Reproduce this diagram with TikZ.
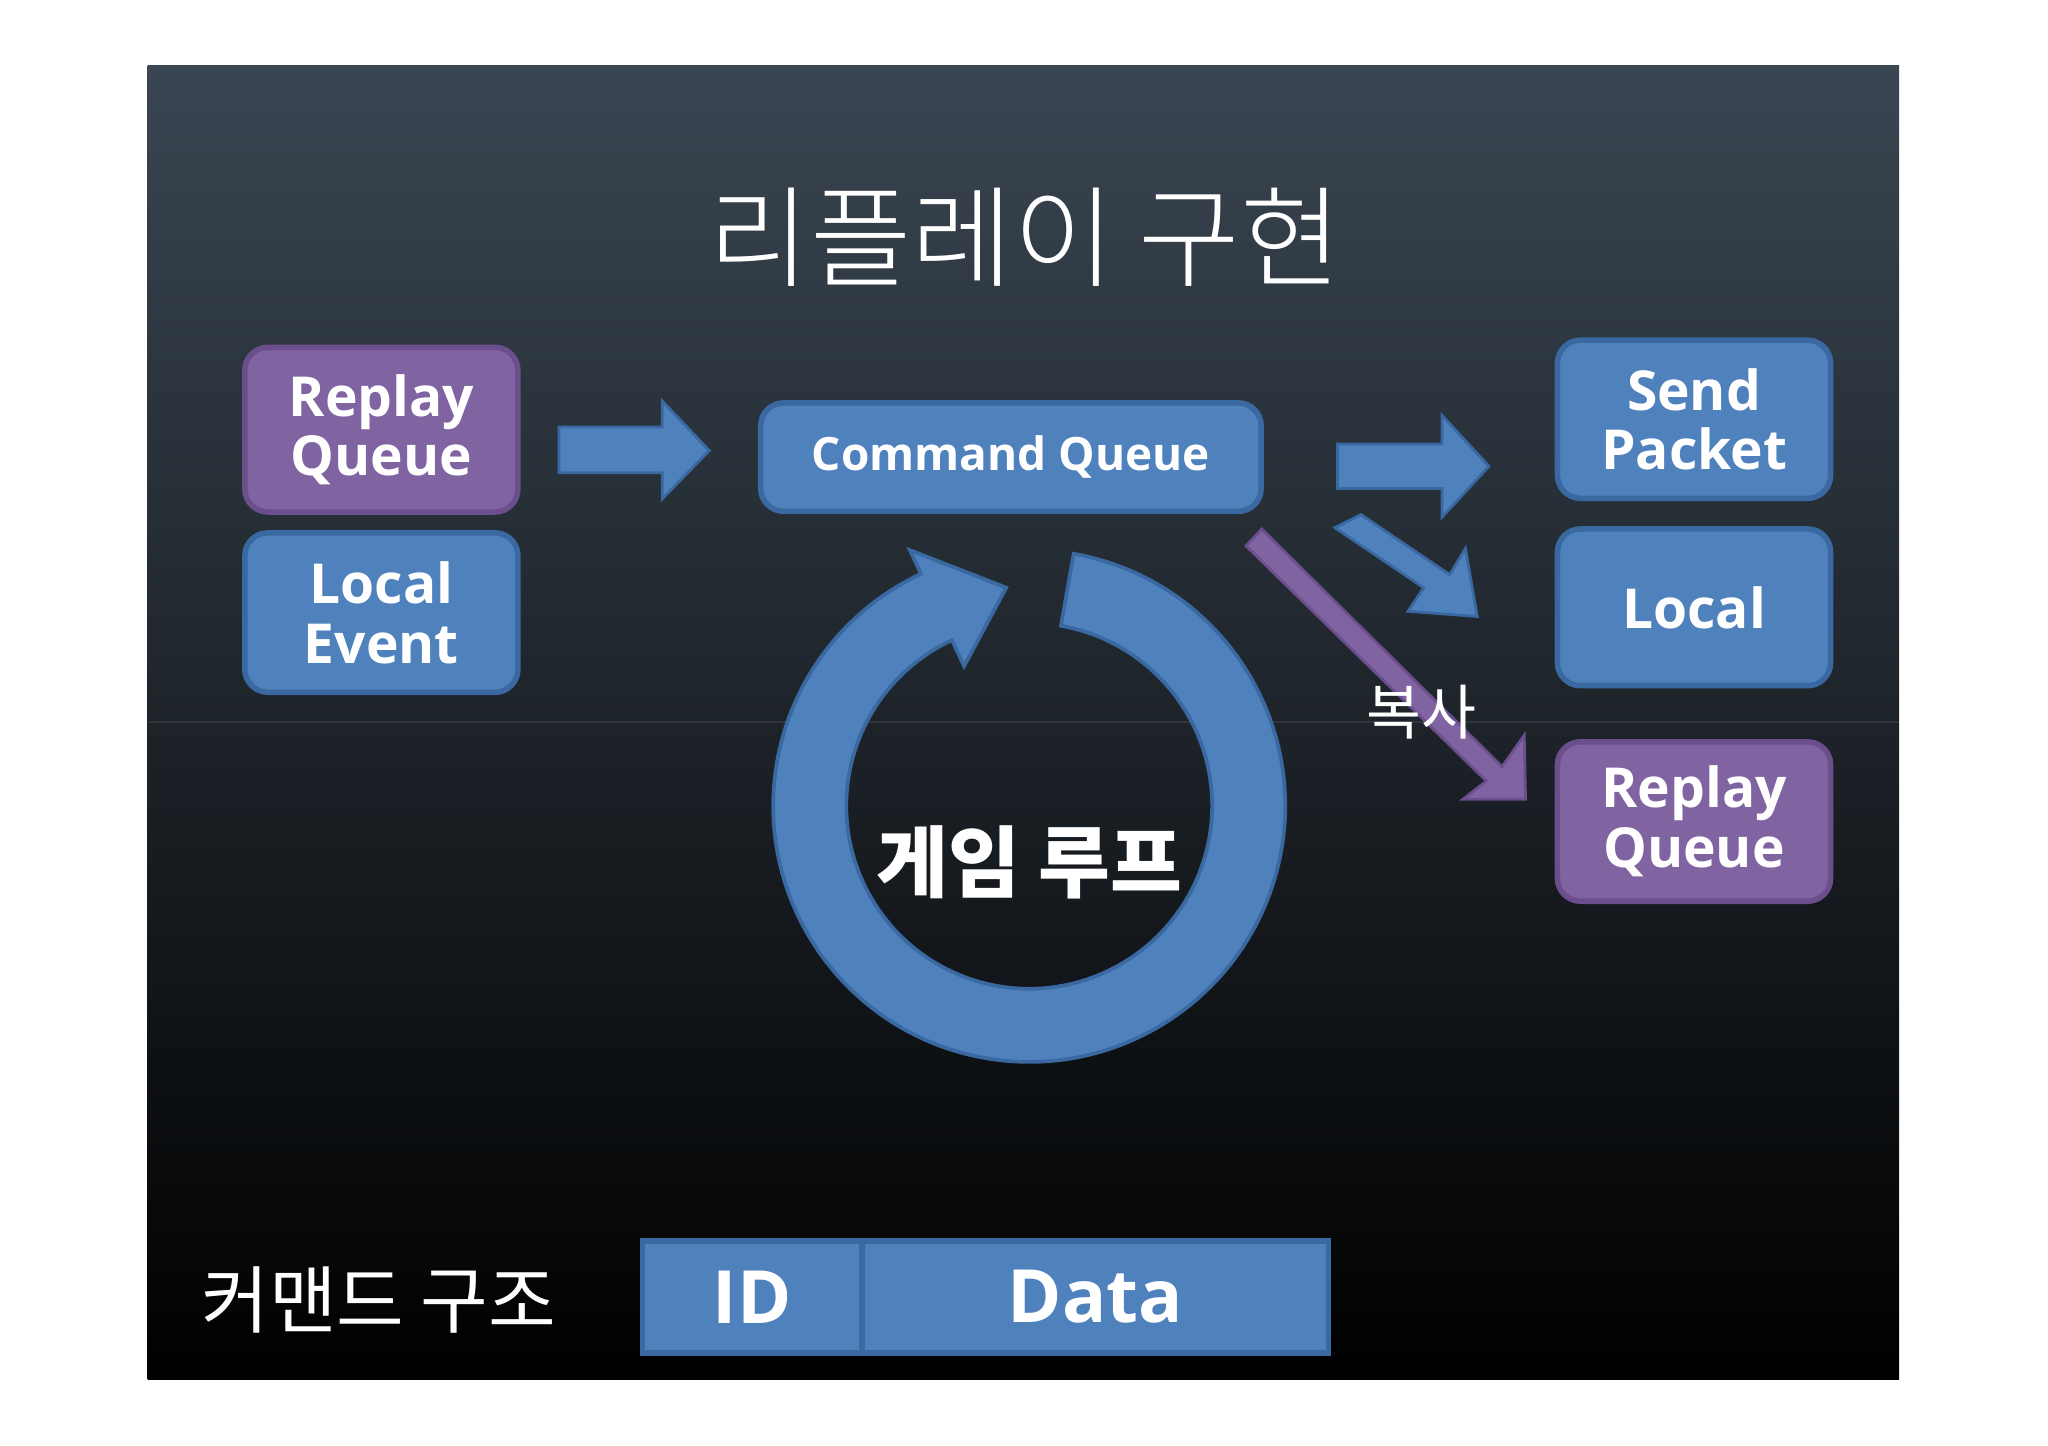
\documentclass[tikz,border=0pt]{standalone}
\usepackage{fontspec}
\setmainfont{Open Sans}
\newfontfamily\kr{Noto Sans CJK KR}
\newfontfamily\krl{Noto Sans CJK KR Light}
\definecolor{pblue}{HTML}{4F81BD}
\definecolor{pblueD}{HTML}{3A68A0}
\definecolor{ppur}{HTML}{8064A2}
\definecolor{ppurD}{HTML}{6A4F8C}
\definecolor{bgtop}{HTML}{3A4652}
\begin{document}
\begin{tikzpicture}[x=0.01cm,y=-0.01cm,
  box/.style={draw=pblueD,fill=pblue,line width=1.2pt,rounded corners=5pt,text=white,font=\bfseries\fontsize{12}{13}\selectfont,align=center,inner sep=0pt},
  pbox/.style={box,draw=ppurD,fill=ppur},
  barrow/.style={fill=pblue,draw=pblueD,line width=0.6pt}]
\useasboundingbox (0,0) rectangle (1568,1107);
\fill[white] (0,0) rectangle (1568,1107);
\shade[top color=bgtop,bottom color=black] (113,50) rectangle (1454,1056);
\draw[white,opacity=0.08] (113,553) -- (1454,553);
\node[text=white,font=\krl\fontsize{24}{24}\selectfont] (title) at (785,182) {리플레이 구현};
\node[pbox,minimum width=2.09cm,minimum height=1.26cm] (rq1) at (292,329) {Replay\\Queue};
\node[box,minimum width=2.09cm,minimum height=1.22cm] (le) at (292,469) {Local\\Event};
\node[box,minimum width=3.83cm,minimum height=0.83cm,font=\bfseries\fontsize{10}{10}\selectfont] (cq) at (774,350) {Command Queue};
\node[box,minimum width=2.09cm,minimum height=1.21cm] (sp) at (1297,321) {Send\\Packet};
\node[box,minimum width=2.09cm,minimum height=1.2cm] (lo) at (1297,465) {Local};
\node[pbox,minimum width=2.09cm,minimum height=1.22cm] (rq2) at (1297,629) {Replay\\Queue};
% block arrows
\draw[barrow] (428,327) -- (507,327) -- (507,307) -- (543,345) -- (507,382) -- (507,362) -- (428,362) -- cycle;
\draw[barrow] (1024,340) -- (1104,340) -- (1104,318) -- (1140,357) -- (1104,396) -- (1104,374) -- (1024,374) -- cycle;
\draw[barrow] (1042,394) -- (1110,440) -- (1122,420) -- (1131,472) -- (1078,468) -- (1090,450) -- (1022,404) -- cycle;
\draw[fill=ppur,draw=ppurD,line width=0.6pt] (966,405) -- (1150,587) -- (1167,563) -- (1168,612) -- (1120,612) -- (1138,598) -- (954,418) -- cycle;
\node[text=white,font=\kr\fontsize{13}{13}\selectfont] (copy) at (1088,545) {복사};
% circular arrow
\begin{scope}[shift={(788,617)},yscale=-1]
\draw[barrow,line width=0.8pt] (80:196)
  arc[start angle=80,end angle=-245,radius=196]
  -- (115:216) -- (96:168) -- (115:118) -- (115:140)
  arc[start angle=115,end angle=440,radius=140] -- cycle;
\end{scope}
\node[text=white,font=\kr\bfseries\fontsize{17}{17}\selectfont] (loop) at (788,660) {게임 루프};
% bottom
\node[text=white,font=\kr\fontsize{16}{16}\selectfont] (cs) at (290,995) {커맨드 구조};
\node[draw=pblueD,fill=pblue,line width=1.2pt,minimum width=1.68cm,minimum height=0.86cm,text=white,font=\bfseries\fontsize{16}{16}\selectfont] (id) at (576,993) {ID};
\node[draw=pblueD,fill=pblue,line width=1.2pt,minimum width=3.57cm,minimum height=0.86cm,text=white,font=\bfseries\fontsize{16}{16}\selectfont] (data) at (838.5,993) {Data};
\end{tikzpicture}
\end{document}
